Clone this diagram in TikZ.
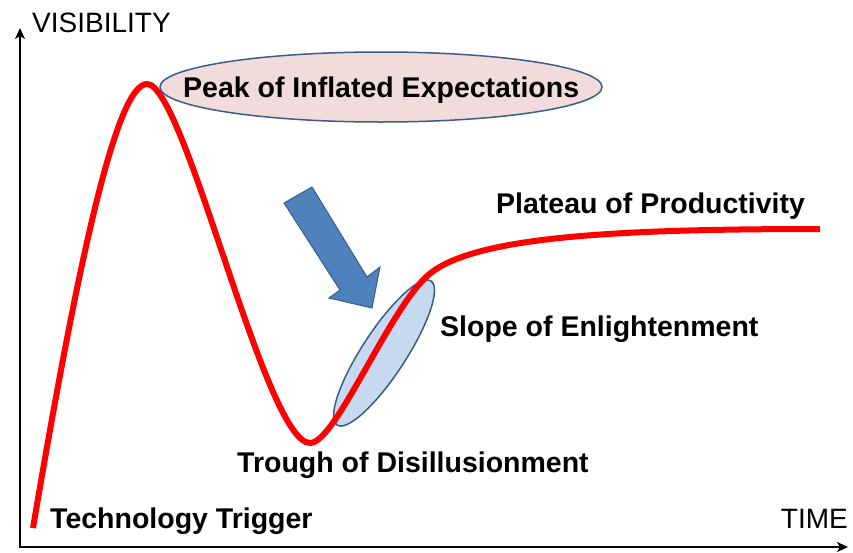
\documentclass[tikz,border=0pt]{standalone}
\usepackage{fontspec}
\setmainfont{Liberation Sans}
\usetikzlibrary{arrows.meta}
\definecolor{hypered}{RGB}{255,0,0}
\definecolor{arrowfill}{RGB}{79,129,189}
\definecolor{arrowline}{RGB}{56,93,138}
\definecolor{slopefill}{RGB}{198,217,241}
\definecolor{peakfill}{RGB}{242,220,219}
\definecolor{ellline}{RGB}{56,93,138}
\begin{document}
\begin{tikzpicture}[x=1pt,y=-1pt,
  lbl/.style={font=\fontsize{28.5}{32}\selectfont\bfseries, inner sep=0pt, anchor=base west},
  axlbl/.style={font=\fontsize{28}{32}\selectfont, inner sep=0pt},
  axisline/.style={line width=2pt, black, {Stealth[length=11pt,width=10pt,inset=3pt]}-{Stealth[length=11pt,width=10pt,inset=3pt]}},
  hype/.style={line width=6pt, hypered},
  bluearrow/.style={fill=arrowfill, draw=arrowline, line width=1pt, line join=miter},
  slopeell/.style={fill=slopefill, draw=ellline, line width=1.5pt},
  peakell/.style={fill=peakfill, draw=ellline, line width=1.5pt}]
\useasboundingbox (0,0) rectangle (853,552);
\fill[white] (0,0) rectangle (853,552);
% axes
\coordinate (ytop) at (20,28);
\coordinate (orig) at (20,547);
\coordinate (xend) at (848,547);
\draw[axisline] (ytop) -- (orig) -- (xend);
\node[axlbl, anchor=base west] (vis) at (32,32) {VISIBILITY};
\node[axlbl, anchor=base east] (time) at (848,528) {TIME};
% blue arrow
\draw[bluearrow] (284,203) -- (312,187) -- (367,277) -- (380,267) -- (372,308) -- (329,298) -- (340,290) -- cycle;
% slope ellipse
\draw[slopeell, rotate around={56.9:(384,353)}] (384,353) ellipse [x radius=86, y radius=22];
% hype curve
\draw[hype] (33,528) .. controls (75,280) and (115,84) .. (147,84)
  .. controls (185,84) and (265,443) .. (310,443)
  .. controls (335,443) and (385,318) .. (425,278)
  .. controls (465,238) and (600,229) .. (820,229);
% peak ellipse
\draw[peakell] (381,87) ellipse [x radius=221, y radius=35];
% labels
\node[lbl] (peak) at (183,97) {Peak of Inflated Expectations};
\node[lbl] (plateau) at (496,213) {Plateau of Productivity};
\node[lbl] (slope) at (440,336) {Slope of Enlightenment};
\node[lbl] (trough) at (237,472) {Trough of Disillusionment};
\node[lbl] (trigger) at (50,528) {Technology Trigger};
\end{tikzpicture}
\end{document}
